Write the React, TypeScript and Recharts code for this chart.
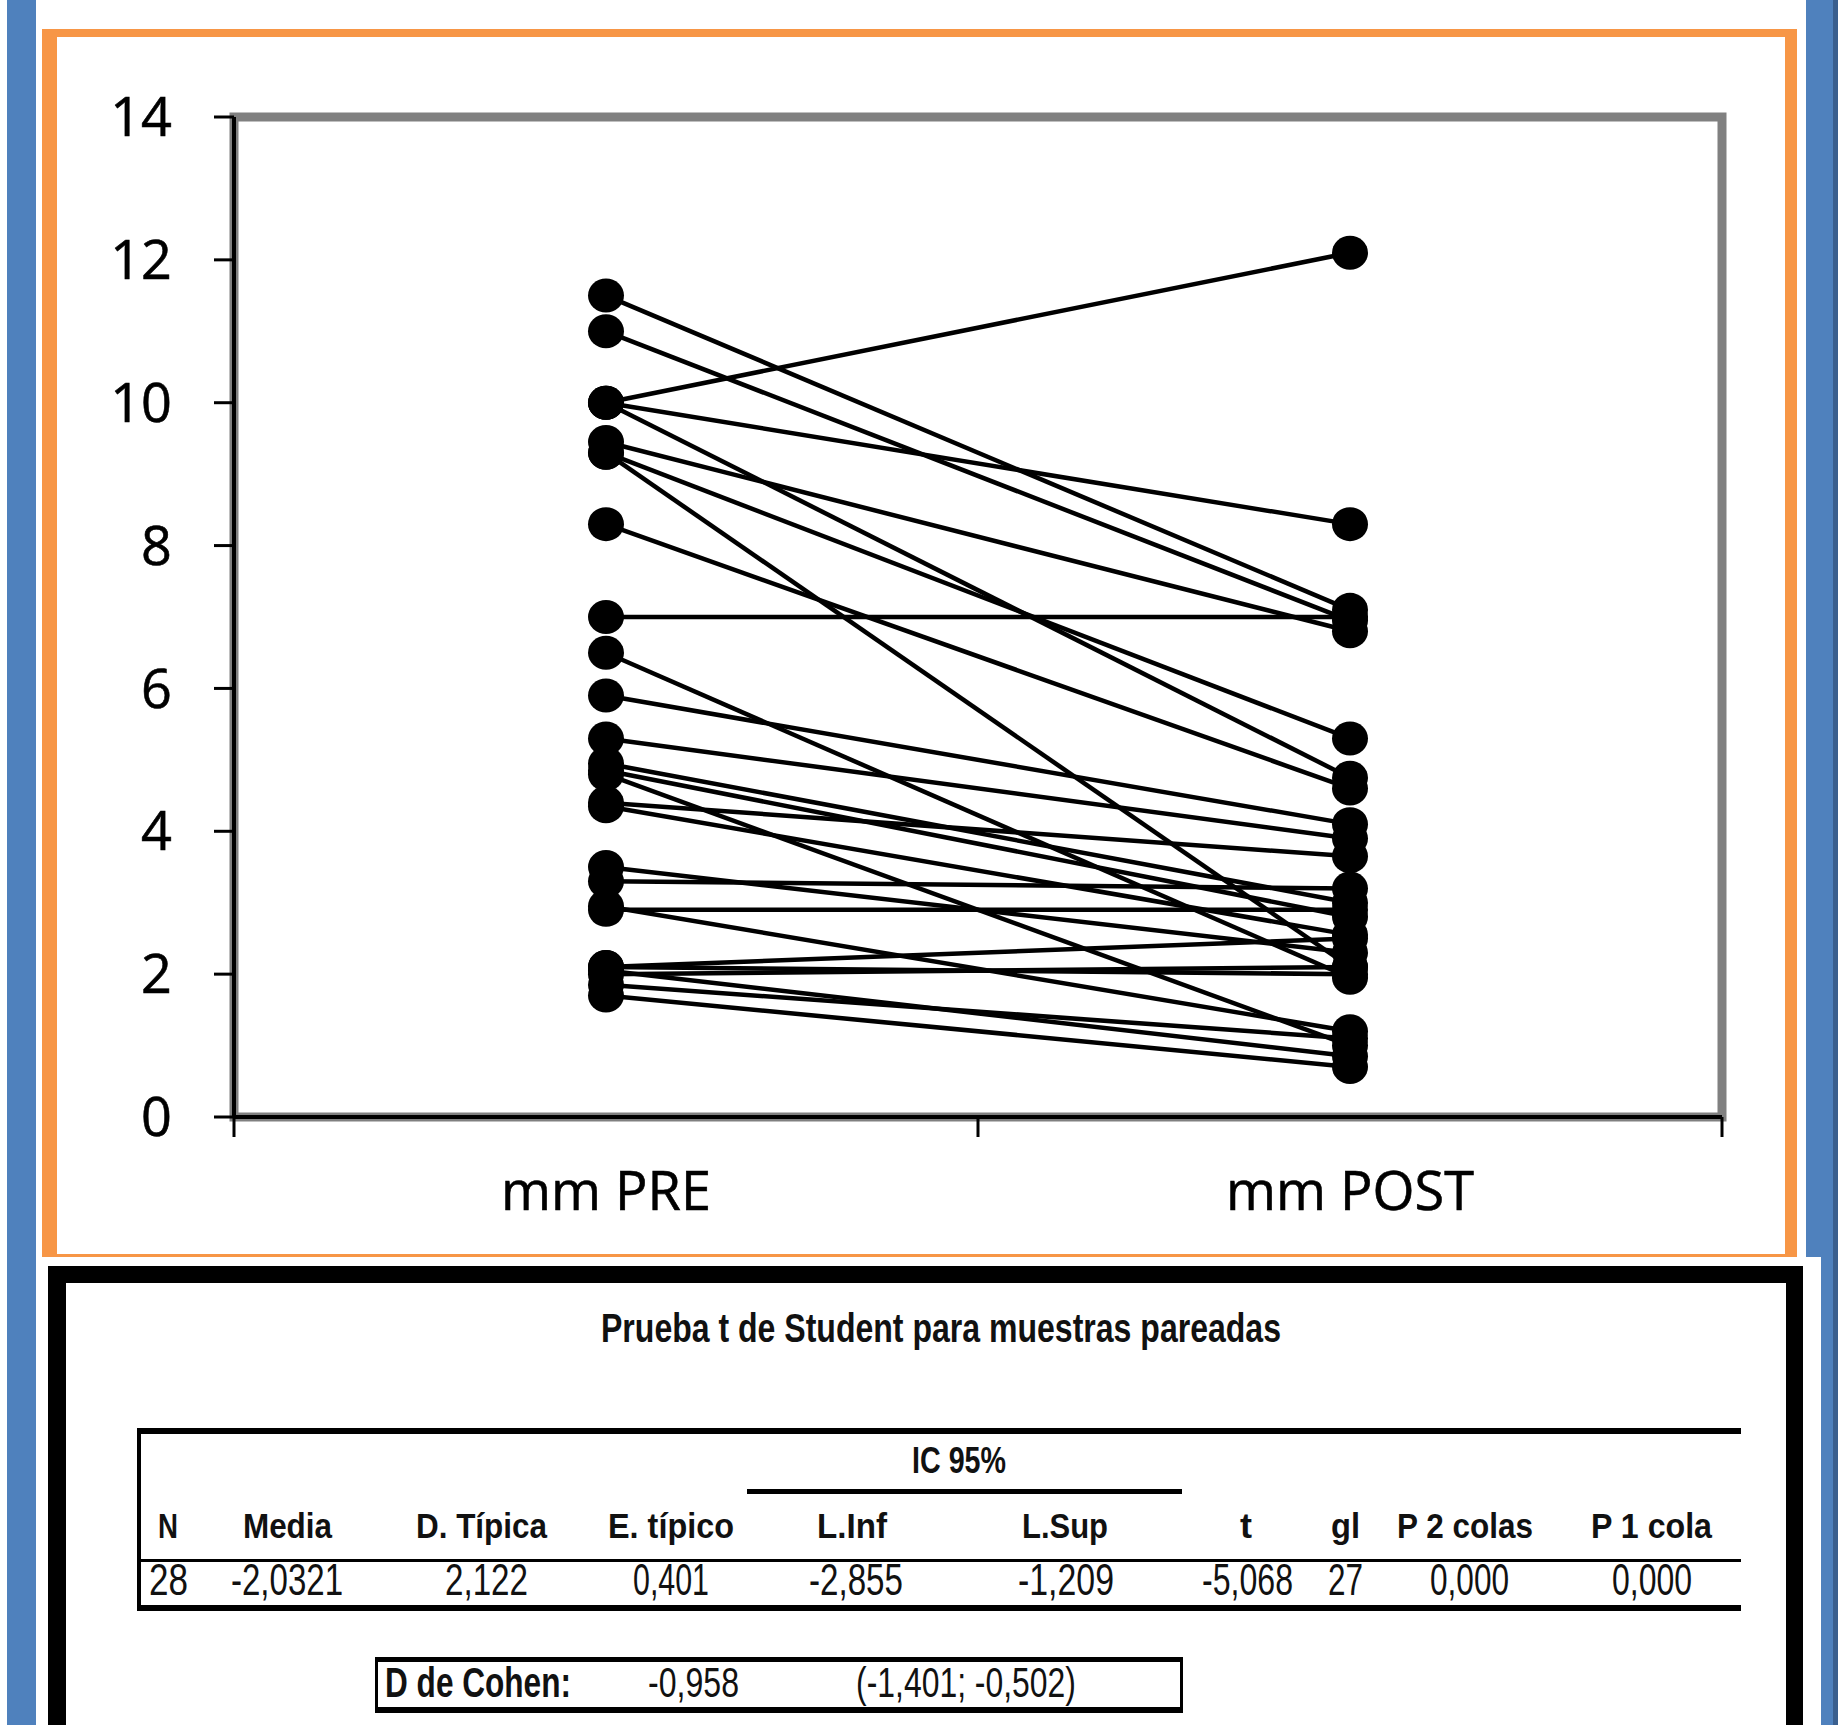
import React from 'react';
import { LineChart, Line, XAxis, YAxis, ReferenceArea } from 'recharts';

// ---------- chart data ----------
const categories = ['mm PRE', 'mm POST'];
const preValues = [11.5, 11.0, 10.0, 10.0, 10.0, 9.45, 9.3, 9.3, 8.3, 7.0, 6.5, 5.9, 5.3, 4.95, 4.85, 4.8, 4.4, 4.35, 3.5, 3.3, 2.9, 2.95, 2.1, 2.1, 2.0, 2.05, 1.85, 1.7];
const postValues = [7.1, 6.95, 12.1, 8.3, 4.75, 6.8, 5.3, 2.1, 4.6, 7.0, 1.95, 4.1, 3.9, 3.0, 2.8, 1.0, 3.65, 2.55, 2.3, 3.2, 2.9, 1.2, 2.5, 2.0, 2.1, 0.85, 1.1, 0.7];
const yTicks = [0, 2, 4, 6, 8, 10, 12, 14];
const xTicks = [0, 0.5, 1, 1.5, 2];

// ---------- table text ----------
const tableTitle = 'Prueba t de Student para muestras pareadas';
const ciLabel = 'IC 95%';
const headerLabels = ['N', 'Media', 'D. Típica', 'E. típico', 'L.Inf', 'L.Sup', 't', 'gl', 'P 2 colas', 'P 1 cola'];
const rowValues = ['28', '-2,0321', '2,122', '0,401', '-2,855', '-1,209', '-5,068', '27', '0,000', '0,000'];
const cohenLabel = 'D de Cohen:';
const cohenValue = '-0,958';
const cohenInterval = '(-1,401; -0,502)';

const seriesKeys = preValues.map((_, i) => `s${i}`);
const rows = categories.map((name, c) => {
  const row: Record<string, any> = { name, pos: c + 0.5 };
  seriesKeys.forEach((k, i) => {
    row[k] = c === 0 ? preValues[i] : postValues[i];
  });
  return row;
});

// layout of table columns: [x start, text width]
const headerLayout = [[158, 20], [243, 89], [416, 131], [608, 126], [817, 70], [1022, 86], [1240, 12], [1331, 29], [1397, 136], [1591, 121]];
const valueLayout = [[149, 39], [231, 112], [445, 83], [633, 76], [809, 94], [1018, 96], [1202, 91], [1328, 35], [1430, 79], [1612, 80]];

const XTick = (props: any) => {
  const { x, y, payload } = props;
  const v = Number(payload.value);
  if (Number.isInteger(v)) {
    return <line x1={x} x2={x} y1={y} y2={y + 20} stroke="#000" strokeWidth={3} />;
  }
  const label = categories[Math.floor(v)];
  return (
    <text x={x} y={y + 93} textAnchor="middle" fontFamily="'Open Sans'" fontSize={54} fill="#000" stroke="#000" strokeWidth={0.6}>
      {label}
    </text>
  );
};

const makeDot = (si: number) => (props: any) => {
  const { cx, cy, index } = props;
  if (cx == null || cy == null) return <g key={`e-${si}-${index}`} />;
  return <ellipse key={`d-${si}-${index}`} cx={cx} cy={cy} rx={18} ry={17} fill="#000" />;
};

const T = (p: { x: number; y: number; w: number; size: number; bold?: boolean; children: string }) => (
  <text
    x={p.x}
    y={p.y}
    textLength={p.w}
    lengthAdjust="spacingAndGlyphs"
    fontFamily="'Liberation Sans', Arial, sans-serif"
    fontSize={p.size}
    fontWeight={p.bold ? 700 : 400}
    fill="#111"
  >
    {p.children}
  </text>
);

export default function App() {
  return (
    <div style={{ position: 'relative', width: 1838, height: 1725, background: '#fff', overflow: 'hidden' }}>
      <style>{`html,body{margin:0;padding:0;background:#fff}`}</style>
      <svg width={1838} height={1725} style={{ position: 'absolute', left: 0, top: 0 }}>
        {/* blue side bars */}
        <rect x={7} y={0} width={29} height={1725} fill="#4F81BD" />
        <rect x={1806} y={0} width={32} height={1257} fill="#4F81BD" />
        <rect x={1821} y={1257} width={17} height={468} fill="#4F81BD" />
        <rect x={1833} y={0} width={5} height={1725} fill="#3A5F8E" />
        {/* orange frame */}
        <rect x={42} y={29} width={15} height={1228} fill="#F79646" />
        <rect x={42} y={29} width={1755} height={8} fill="#F79646" />
        <rect x={1785} y={29} width={12} height={1228} fill="#F79646" />
        <rect x={42} y={1254} width={1755} height={3} fill="#F79646" />
        {/* black frame */}
        <rect x={48} y={1266} width={1755} height={17} fill="#000" />
        <rect x={48} y={1266} width={18} height={480} fill="#000" />
        <rect x={1786} y={1266} width={17} height={480} fill="#000" />

        {/* table */}
        <T x={601} y={1342} w={680} size={40} bold>{tableTitle}</T>
        <rect x={138} y={1428} width={1603} height={6} fill="#000" />
        <rect x={137} y={1428} width={4} height={183} fill="#000" />
        <T x={912} y={1473} w={94} size={36} bold>{ciLabel}</T>
        <rect x={747} y={1489} width={435} height={5} fill="#000" />
        {headerLabels.map((h, i) => (
          <T key={`h${i}`} x={headerLayout[i][0]} y={1538} w={headerLayout[i][1]} size={35} bold>{h}</T>
        ))}
        <rect x={138} y={1559} width={1603} height={3} fill="#000" />
        {rowValues.map((v, i) => (
          <T key={`v${i}`} x={valueLayout[i][0]} y={1595} w={valueLayout[i][1]} size={44}>{v}</T>
        ))}
        <rect x={138} y={1605} width={1603} height={6} fill="#000" />
        {/* Cohen box */}
        <rect x={375} y={1657} width={808} height={5} fill="#000" />
        <rect x={375} y={1707} width={808} height={6} fill="#000" />
        <rect x={375} y={1657} width={3} height={56} fill="#000" />
        <rect x={1180} y={1657} width={3} height={56} fill="#000" />
        <T x={385} y={1697} w={186} size={42} bold>{cohenLabel}</T>
        <T x={648} y={1697} w={91} size={42}>{cohenValue}</T>
        <T x={856} y={1697} w={220} size={42}>{cohenInterval}</T>
      </svg>

      <div style={{ position: 'absolute', left: 0, top: 0 }}>
        <LineChart width={1838} height={1262} data={rows} margin={{ top: 117, right: 116, bottom: 5, left: 114 }}>
          <ReferenceArea
            x1={0}
            x2={2}
            y1={0}
            y2={14}
            fill="none"
            fillOpacity={0}
            stroke="#808080"
            strokeWidth={9}
            ifOverflow="visible"
          />
          <XAxis
            dataKey="pos"
            type="number"
            domain={[0, 2]}
            ticks={xTicks}
            interval={0}
            height={140}
            tickSize={0}
            tickMargin={0}
            tickLine={false}
            axisLine={{ stroke: '#000', strokeWidth: 4 }}
            tick={(p: any) => <XTick {...p} />}
          />
          <YAxis
            type="number"
            domain={[0, 14]}
            ticks={yTicks}
            interval={0}
            width={120}
            tickSize={20}
            tickMargin={42}
            axisLine={{ stroke: '#000', strokeWidth: 4 }}
            tickLine={{ stroke: '#000', strokeWidth: 3 }}
            tick={{ fontSize: 54, fill: '#000', fontFamily: 'Open Sans', stroke: '#000', strokeWidth: 0.6 }}
          />
          {seriesKeys.map((k, i) => (
            <Line
              key={k}
              dataKey={k}
              type="linear"
              stroke="#000"
              strokeWidth={4.5}
              dot={makeDot(i)}
              activeDot={false}
              isAnimationActive={false}
            />
          ))}
        </LineChart>
      </div>
    </div>
  );
}
